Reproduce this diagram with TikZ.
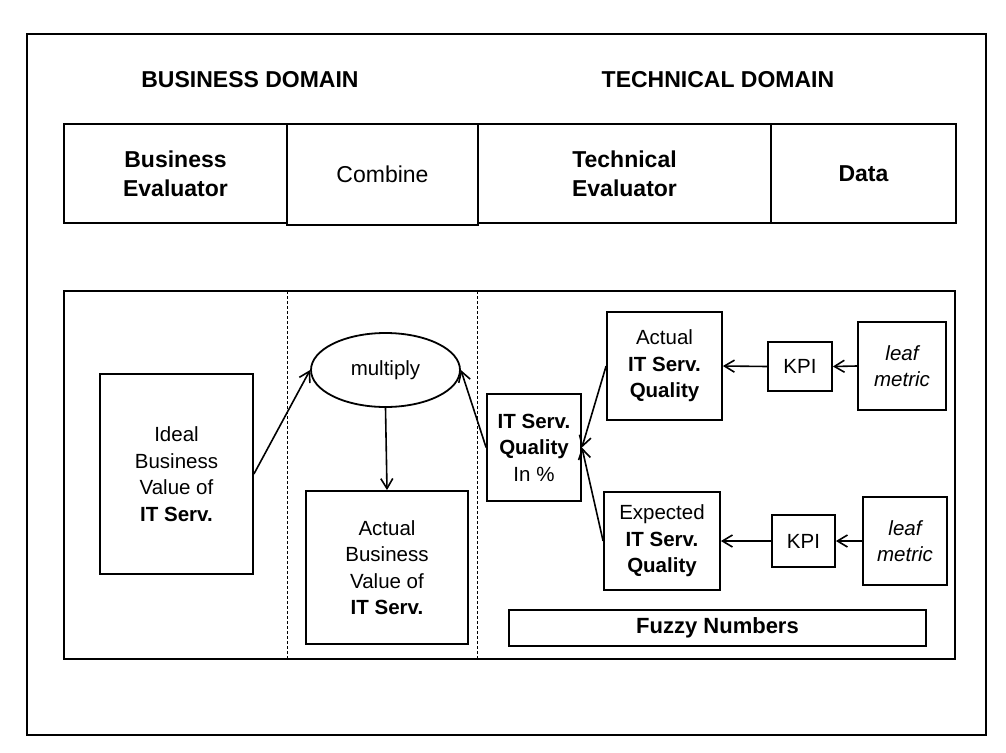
\documentclass[tikz,border=0pt]{standalone}
\usepackage{fontspec}
\setmainfont{Liberation Sans}
\usetikzlibrary{arrows.meta,shapes.geometric}
\begin{document}
\begin{tikzpicture}[x=1pt,y=-1pt,
  bodyfont/.style={font=\fontsize{20.5}{26.5}\selectfont},
  box/.style={draw,line width=1.8pt,inner sep=0pt,align=center,bodyfont},
  hbox/.style={draw,line width=1.8pt,inner sep=0pt,align=center,font=\fontsize{23}{29}\selectfont},
  arr/.style={line width=1.6pt,-{Straight Barb[length=10pt,width=12pt]}},
  sep/.style={line width=0.9pt,dash pattern=on 3pt off 2pt},
  title/.style={font=\bfseries\fontsize{23}{29}\selectfont}]
\useasboundingbox (0,0) rectangle (1006,752);
\fill[white] (0,0) rectangle (1006,752);
% outer frame
\draw[line width=2.6pt] (27,34) rectangle (986,735);
% titles
\node[title] (bd) at (250,80) {BUSINESS DOMAIN};
\node[title] (td) at (718,80) {TECHNICAL DOMAIN};
% header row
\node[hbox,minimum width=223pt,minimum height=99pt] (be) at (175.5,173.5) {\textbf{Business}\\\textbf{Evaluator}};
\node[hbox,minimum width=191pt,minimum height=101pt] (comb) at (382.5,174.5) {Combine};
\node[hbox,minimum width=293pt,minimum height=99pt] (te) at (624.5,173.5) {\textbf{Technical}\\\textbf{Evaluator}};
\node[hbox,minimum width=185pt,minimum height=99pt] (data) at (863.5,173.5) {\textbf{Data}};
% lower region
\draw[line width=1.8pt] (64,291) rectangle (955,659);
\draw[sep] (287,291) -- (287,659);
\draw[sep] (477,291) -- (477,659);
% business side
\node[box,minimum width=153pt,minimum height=200pt] (ideal) at (176.5,474) {Ideal\\Business\\Value of\\\textbf{IT Serv.}};
\node[draw,ellipse,line width=1.8pt,inner sep=0pt,minimum width=149pt,minimum height=74pt,bodyfont] (mult) at (385.5,370) {multiply};
\node[box,minimum width=162pt,minimum height=153pt] (actbiz) at (387,567.5) {Actual\\Business\\Value of\\\textbf{IT Serv.}};
% technical side
\node[box,minimum width=94pt,minimum height=107pt] (itq) at (534,447.5) {\textbf{IT Serv.}\\\textbf{Quality}\\In \%};
\node[box,minimum width=115pt,minimum height=108pt] (actq) at (664.5,366) {Actual\\\textbf{IT Serv.}\\\textbf{Quality}};
\node[box,minimum width=116pt,minimum height=98pt] (expq) at (662,541) {Expected\\\textbf{IT Serv.}\\\textbf{Quality}};
\node[box,minimum width=64pt,minimum height=49pt] (kpia) at (800,366.5) {KPI};
\node[box,minimum width=63pt,minimum height=52pt] (kpib) at (803.5,541) {KPI};
\node[box,minimum width=88pt,minimum height=88pt,font=\fontsize{20.5}{26.5}\selectfont\itshape] (leafa) at (902,366) {leaf\\metric};
\node[box,minimum width=84pt,minimum height=88pt,font=\fontsize{20.5}{26.5}\selectfont\itshape] (leafb) at (905,541) {leaf\\metric};
\node[box,minimum width=417pt,minimum height=36pt,font=\bfseries\fontsize{22}{26}\selectfont] (fuzzy) at (717.5,628) {Fuzzy Numbers};
% connectors
\draw[arr] (ideal.east) -- (mult.west);
\draw[arr] (mult.south) -- (actbiz.north);
\draw[arr] (itq.west) -- (mult.east);
\draw[arr] (actq.west) -- (itq.east);
\draw[arr] (expq.west) -- (itq.east);
\draw[arr] (kpia.west) -- (actq.east);
\draw[arr] (leafa.west) -- (kpia.east);
\draw[arr] (kpib.west) -- (expq.east);
\draw[arr] (leafb.west) -- (kpib.east);
\end{tikzpicture}
\end{document}
